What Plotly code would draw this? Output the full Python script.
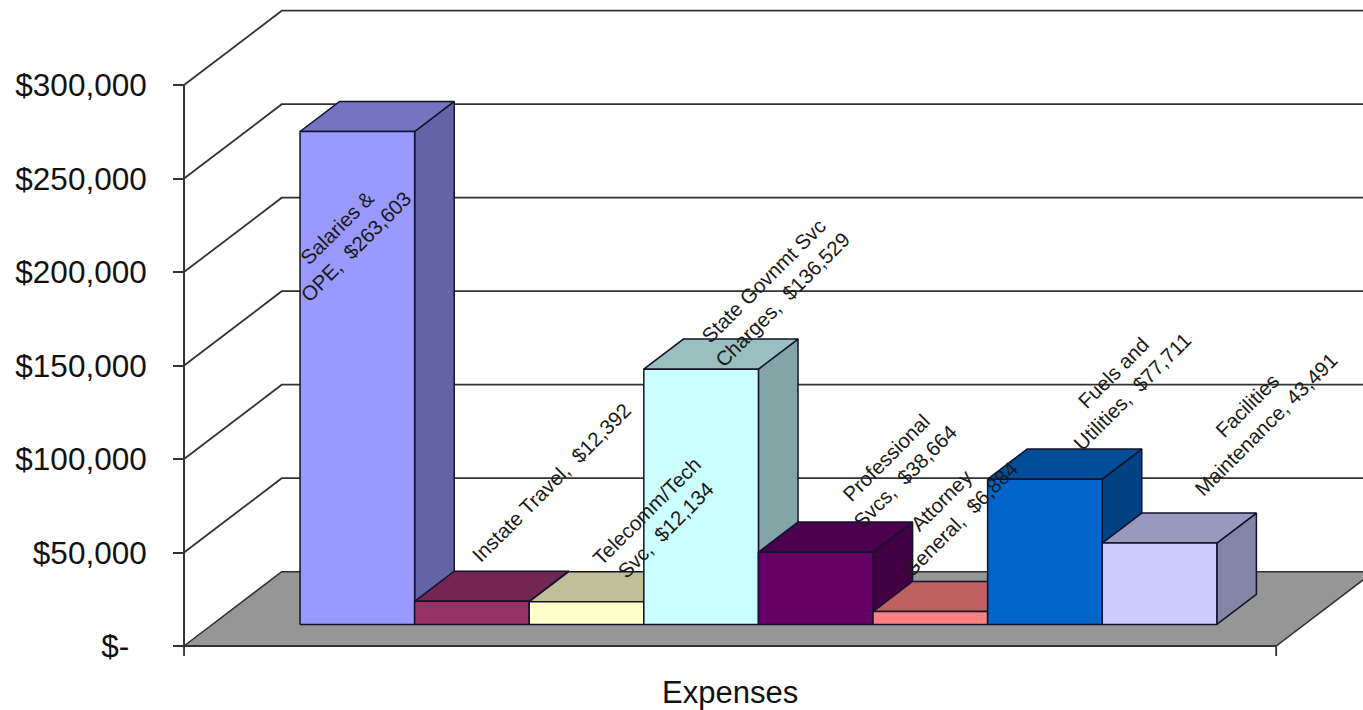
import plotly.graph_objects as go

# ---- data ----
categories = ["Salaries & OPE", "Instate Travel", "Telecomm/Tech Svc", "State Govnmt Svc Charges",
              "Professional Svcs", "Attorney General", "Fuels and Utilities", "Facilities Maintenance"]
values = [263603, 12392, 12134, 136529, 38664, 6884, 77711, 43491]
label_texts = ["Salaries &<br>OPE,\u00a0 $263,603", "Instate Travel,\u00a0 $12,392",
               "Telecomm/Tech<br>Svc,\u00a0 $12,134", "State Govnmt Svc<br>Charges,\u00a0 $136,529",
               "Professional<br>Svcs,\u00a0 $38,664", "Attorney<br>General,\u00a0 $6,884",
               "Fuels and<br>Utilities,\u00a0 $77,711", "Facilities<br>Maintenance, 43,491"]
tick_values = [0, 50000, 100000, 150000, 200000, 250000, 300000]
tick_labels = ["$-\u00a0\u00a0", "$50,000", "$100,000", "$150,000", "$200,000", "$250,000", "$300,000"]
axis_title = "Expenses"

# ---- styles / layout ----
front_colors = ["#9999FF", "#993366", "#FFFFCC", "#CCFFFF", "#660066", "#FF8080", "#0066CC", "#CCCCFF"]
top_colors = ["#7373BF", "#732650", "#BFBF99", "#99BFBF", "#4D004D", "#BF6060", "#004D99", "#9999BF"]
side_colors = ["#6363A5", "#632142", "#A5A584", "#84A5A5", "#420042", "#A55353", "#004284", "#8484A5"]
label_shift = [(-11, -105), (79, 119), (69, 81), (72, 79), (80, 85), (20, 102), (78, 97), (97, 128)]

W, H = 1363, 710
PX_X0, PX_PER_CAT = 271.7, 114.6
PX_Y0, PX_PER_VAL = 646.0, 93.5 / 50000
FLOOR_L, FLOOR_R = -0.765, 8.765     # category-space span of the floor
DEPTH_X = 97.7 / PX_PER_CAT          # full wall depth in category units
DEPTH_Y = 74.3 / PX_PER_VAL          # full wall depth in value units
BAR_D0, BAR_D1 = 0.29, 0.695         # depth slab taken by the bars
EDGE = "#12122e"
GRID = "#333333"


def project(x, v, d):
    return x + d * DEPTH_X, v + d * DEPTH_Y


def poly(points, fill, line=EDGE, width=1.5):
    xs, ys = zip(*[project(*p) for p in points])
    return go.Scatter(x=list(xs) + [xs[0]], y=list(ys) + [ys[0]], mode="lines", fill="toself",
                      fillcolor=fill, line=dict(color=line, width=width), hoverinfo="skip",
                      showlegend=False)


def path(points, color=GRID, width=1.8):
    xs, ys = zip(*[project(*p) for p in points])
    return go.Scatter(x=list(xs), y=list(ys), mode="lines", line=dict(color=color, width=width),
                      hoverinfo="skip", showlegend=False)


fig = go.Figure()

# floor
fig.add_trace(poly([(FLOOR_L, 0, 0), (FLOOR_R, 0, 0), (FLOOR_R, 0, 1), (FLOOR_L, 0, 1)], "#969696", line="#303030"))

# wall gridlines
for tv in tick_values[1:]:
    fig.add_trace(path([(FLOOR_L, tv, 0), (FLOOR_L, tv, 1), (FLOOR_R + 1, tv, 1)]))

# axis lines and end ticks
fig.add_trace(path([(FLOOR_L, 0, 0), (FLOOR_L, tick_values[-1], 0)], width=2))
fig.add_trace(path([(FLOOR_L, 0, 0), (FLOOR_R, 0, 0)], width=2))
tick_drop = 10 / PX_PER_VAL
fig.add_trace(path([(FLOOR_L, 0, 0), (FLOOR_L, -tick_drop, 0)]))
fig.add_trace(path([(FLOOR_R, 0, 0), (FLOOR_R, -tick_drop, 0)]))

# bars, drawn left to right so later bars cover earlier side faces
for i, v in enumerate(values):
    x0, x1 = i, i + 1
    fig.add_trace(poly([(x1, 0, BAR_D0), (x1, 0, BAR_D1), (x1, v, BAR_D1), (x1, v, BAR_D0)], side_colors[i]))
    fig.add_trace(poly([(x0, v, BAR_D0), (x1, v, BAR_D0), (x1, v, BAR_D1), (x0, v, BAR_D1)], top_colors[i]))
    fig.add_trace(poly([(x0, 0, BAR_D0), (x1, 0, BAR_D0), (x1, v, BAR_D0), (x0, v, BAR_D0)], front_colors[i]))

annotations = []
for i, v in enumerate(values):
    ax, ay = project(i + 0.5, v, BAR_D0)
    annotations.append(dict(x=ax, y=ay, xref="x", yref="y", text=label_texts[i], showarrow=False,
                            textangle=-45, xshift=label_shift[i][0], yshift=label_shift[i][1],
                            font=dict(family="Liberation Sans", size=20.5, color="#1a1a1a"), align="center"))
annotations.append(dict(x=(FLOOR_L + FLOOR_R) / 2, y=0, xref="x", yref="y", text=axis_title, showarrow=False,
                        yshift=-46, font=dict(family="Liberation Sans", size=31, color="#111111")))

fig.update_layout(
    width=W, height=H, autosize=False,
    margin=dict(l=0, r=0, t=0, b=0),
    paper_bgcolor="white", plot_bgcolor="white", showlegend=False,
    xaxis=dict(range=[(0 - PX_X0) / PX_PER_CAT, (W - PX_X0) / PX_PER_CAT], domain=[0, 1], visible=False, fixedrange=True),
    yaxis=dict(range=[(PX_Y0 - H) / PX_PER_VAL, PX_Y0 / PX_PER_VAL], domain=[0, 1], anchor="free", side="left",
               position=(PX_X0 + PX_PER_CAT * FLOOR_L) / W, showgrid=False, zeroline=False, showline=False,
               tickmode="array", tickvals=tick_values, ticktext=tick_labels, ticks="outside", ticklen=11,
               tickwidth=1.8, tickcolor=GRID, ticklabelstandoff=20,
               tickfont=dict(family="Liberation Sans", size=31.5, color="#111111"), fixedrange=True),
    annotations=annotations,
)

fig.write_html("out.html", config={"displayModeBar": False},
               post_script="document.body.style.margin='0';document.documentElement.style.overflow='hidden';")
